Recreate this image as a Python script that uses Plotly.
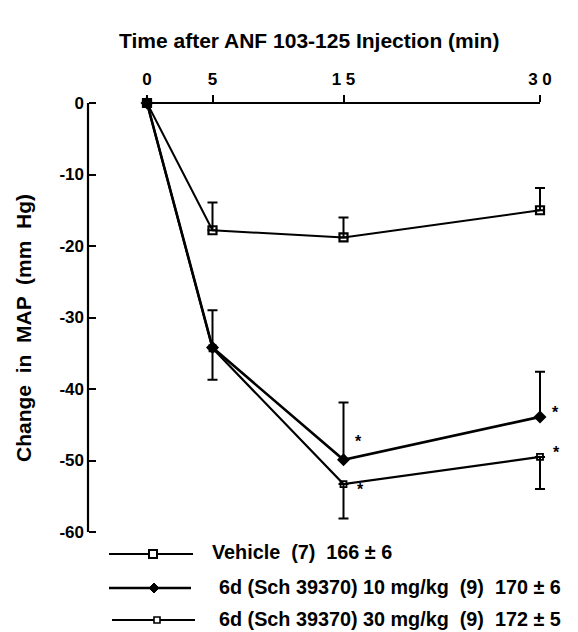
import plotly.graph_objects as go

# ---- data ----
time_min = [0, 5, 15, 30]
x_tick_vals = [0, 5, 15, 30]
x_tick_text = ["0", "5", "1 5", "3 0"]
y_tick_vals = [0, -10, -20, -30, -40, -50, -60]
y_tick_text = ["0", "-10", "-20", "-30", "-40", "-50", "-60"]

vehicle = [0, -17.8, -18.8, -15.0]
vehicle_err_up = [0, 3.9, 2.8, 3.1]

dose10 = [0, -34.2, -49.9, -43.9]
dose10_err_up = [0, 5.2, 8.0, 6.3]

dose30 = [0, -34.3, -53.3, -49.5]
dose30_err_down = [0, 4.4, 4.8, 4.5]

legend_labels = [
    "Vehicle  (7)  166 ± 6",
    "6d (Sch 39370) 10 mg/kg  (9)  170 ± 6",
    "6d (Sch 39370) 30 mg/kg  (9)  172 ± 5",
]
star_points = [(15, -49.9), (15, -53.3), (30, -43.9), (30, -49.5)]
star_shift = [(15, 18), (17, -5), (15, 4), (16, 4)]

W, H = 578, 632
OFF = 8  # page body margin in the browser
FONT = "Liberation Sans"

def px(x):
    return (x - OFF) / W

def py(y):
    return 1 - (y - OFF) / H

fig = go.Figure()

fig.add_trace(go.Scatter(
    x=time_min, y=vehicle, mode="lines+markers", cliponaxis=False,
    line=dict(color="black", width=2),
    marker=dict(symbol="square-open", size=8, color="black", line=dict(width=2.2)),
    error_y=dict(type="data", array=vehicle_err_up, arrayminus=[0]*4, symmetric=False,
                 color="black", thickness=2, width=5),
    showlegend=False))

fig.add_trace(go.Scatter(
    x=time_min, y=dose10, mode="lines+markers", cliponaxis=False,
    line=dict(color="black", width=2.6),
    marker=dict(symbol="diamond", size=10, color="black"),
    error_y=dict(type="data", array=dose10_err_up, arrayminus=[0]*4, symmetric=False,
                 color="black", thickness=2, width=5),
    showlegend=False))

fig.add_trace(go.Scatter(
    x=time_min, y=dose30, mode="lines+markers", cliponaxis=False,
    line=dict(color="black", width=2.2),
    marker=dict(symbol="square-open", size=6, color="black", line=dict(width=1.8)),
    error_y=dict(type="data", array=[0]*4, arrayminus=dose30_err_down, symmetric=False,
                 color="black", thickness=2, width=5),
    showlegend=False))

# axis geometry (screen pixels)
AX_X = 88          # y-axis line
X0_PX, X30_PX = 147, 540
Y0_PX, YM60_PX = 103, 532
k_x = (X30_PX - X0_PX) / 30.0
x_lo = (AX_X - X0_PX) / k_x
x_hi = (565 - X0_PX) / k_x
k_y = (YM60_PX - Y0_PX) / 60.0
y_lo = -(545 - Y0_PX) / k_y
y_hi = (Y0_PX - 95) / k_y

fig.update_layout(
    width=W, height=H,
    margin=dict(l=0, r=0, t=0, b=0),
    paper_bgcolor="white", plot_bgcolor="white",
    font=dict(family=FONT, color="black", weight="bold"),
    xaxis=dict(domain=[px(AX_X), px(565)], range=[x_lo, x_hi],
               anchor="free", position=py(Y0_PX - 1), side="top",
               tickvals=x_tick_vals, ticktext=x_tick_text,
               ticks="outside", ticklen=7, tickwidth=2, tickcolor="black",
               ticklabelstandoff=3,
               showline=False, showgrid=False, zeroline=False,
               tickfont=dict(family=FONT, size=17, weight="bold"),
               automargin=False),
    yaxis=dict(domain=[py(545), py(95)], range=[y_lo, y_hi],
               anchor="free", position=px(AX_X),
               tickvals=y_tick_vals, ticktext=y_tick_text,
               ticks="inside", ticklen=7, tickwidth=2, tickcolor="black",
               ticklabelstandoff=4,
               showline=False, showgrid=False, zeroline=False,
               tickfont=dict(family=FONT, size=17, weight="bold"),
               automargin=False),
)

# axis lines
fig.add_shape(type="line", xref="x", yref="y", x0=0, x1=30, y0=0, y1=0,
              line=dict(color="black", width=2.2))
fig.add_shape(type="line", xref="paper", yref="y", x0=px(AX_X), x1=px(AX_X), y0=-60, y1=0,
              line=dict(color="black", width=2.2))

# titles
fig.add_annotation(text="Time after ANF 103-125 Injection (min)", xref="paper", yref="paper",
                   x=px(309), y=py(27), xanchor="center", yanchor="top", showarrow=False,
                   font=dict(family=FONT, size=21, weight="bold"))
fig.add_annotation(text="Change  in  MAP  (mm  Hg)", xref="paper", yref="paper",
                   x=px(23), y=py(328), xanchor="center", yanchor="middle",
                   showarrow=False, textangle=-90,
                   font=dict(family=FONT, size=21, weight="bold"))

# significance stars
for (sx, sy), (dx, dy) in zip(star_points, star_shift):
    fig.add_annotation(text="*", x=sx, y=sy, xref="x", yref="y", showarrow=False,
                       xshift=dx, yshift=dy, font=dict(family=FONT, size=16, weight="bold"))

# custom legend
rows_line_y = [554, 588, 620]
rows_text_y = [552, 587, 619]
line_x = [(109, 193), (109, 191), (112, 195)]
mark_x = [153, 154, 157]
text_x = [210, 217, 217]
for i, lab in enumerate(legend_labels):
    yy = rows_line_y[i]
    x0, x1 = line_x[i]
    fig.add_shape(type="line", xref="paper", yref="paper", x0=px(x0), x1=px(x1),
                  y0=py(yy), y1=py(yy), line=dict(color="black", width=2.6 if i == 1 else 2))
    m = mark_x[i]
    if i == 0:
        fig.add_shape(type="rect", xref="paper", yref="paper", x0=px(m - 4), x1=px(m + 4),
                      y0=py(yy + 4), y1=py(yy - 4), line=dict(color="black", width=2),
                      fillcolor="white")
    elif i == 1:
        fig.add_shape(type="path", xref="paper", yref="paper",
                      path=f"M {px(m-5)} {py(yy)} L {px(m)} {py(yy-5)} L {px(m+5)} {py(yy)} L {px(m)} {py(yy+5)} Z",
                      line=dict(color="black", width=1), fillcolor="black")
    else:
        fig.add_shape(type="rect", xref="paper", yref="paper", x0=px(m - 3), x1=px(m + 3),
                      y0=py(yy + 3), y1=py(yy - 3), line=dict(color="black", width=1.6),
                      fillcolor="white")
    fig.add_annotation(text=lab, xref="paper", yref="paper", x=px(text_x[i]), y=py(rows_text_y[i]),
                       xanchor="left", yanchor="middle", showarrow=False,
                       font=dict(family=FONT, size=19.8, weight="bold"))

fig.write_html("out.html")
